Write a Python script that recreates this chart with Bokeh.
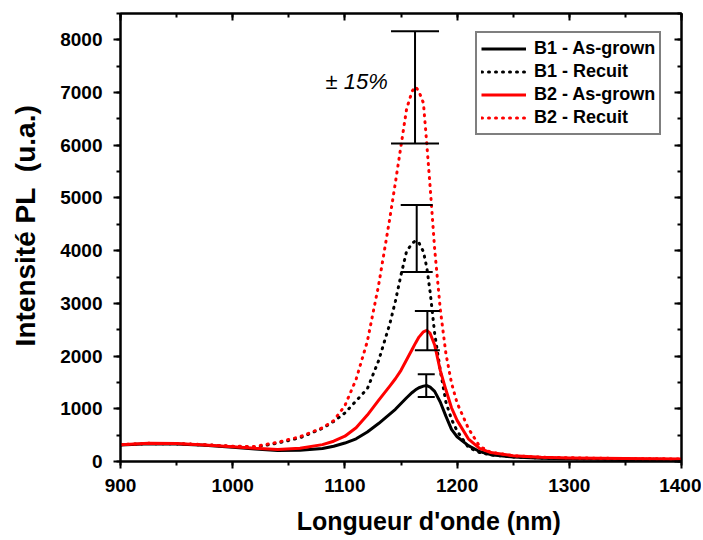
from bokeh.plotting import figure
from bokeh.models import (LinearAxis, SingleIntervalTicker, Range1d, Label, ColumnDataSource,
                          CustomJSTickFormatter)
from bokeh.embed import file_html
from bokeh.resources import INLINE

# ---------------- data ----------------
wavelength = [900, 925, 950, 975, 1000, 1020, 1040, 1060, 1080, 1090, 1100, 1110, 1120,
              1130, 1140, 1145, 1150, 1155, 1160, 1163, 1166, 1170, 1173, 1176, 1180,
              1185, 1190, 1195, 1200, 1210, 1220, 1230, 1250, 1275, 1300, 1350, 1400]

b1_asgrown = [315, 335, 330, 310, 270, 235, 210, 215, 245, 290, 350, 430, 560,
              720, 900, 990, 1100, 1210, 1310, 1360, 1400, 1430, 1440, 1410, 1330,
              1130, 860, 610, 470, 300, 190, 130, 85, 60, 50, 40, 35]

b1_recuit = [315, 340, 335, 315, 285, 270, 350, 450, 630, 760, 920, 1150, 1380,
             1910, 2610, 3040, 3540, 3990, 4140, 4190, 4150, 3980, 3680, 3210, 2430,
             1730, 1130, 800, 580, 270, 170, 125, 85, 65, 55, 45, 38]

b2_asgrown = [320, 345, 340, 315, 280, 250, 230, 250, 320, 385, 480, 640, 880,
              1160, 1430, 1570, 1730, 1930, 2130, 2250, 2360, 2460, 2490, 2430, 2210,
              1730, 1360, 1020, 780, 430, 250, 170, 110, 80, 68, 55, 48]

b2_recuit = [320, 345, 340, 320, 290, 285, 365, 470, 640, 775, 1060, 1560, 2280,
             3340, 4610, 5290, 5990, 6690, 7030, 7110, 7020, 6800, 6020, 5200, 4030,
             2890, 2050, 1490, 1110, 630, 290, 175, 110, 80, 70, 55, 48]

series_labels = ["B1 - As-grown", "B1 - Recuit", "B2 - As-grown", "B2 - Recuit"]

# error bars (peak positions and peak intensities, +/- 15 %)
err_x = [1172.5, 1164.0, 1173.5, 1162.5]
err_center = [1440, 4230, 2485, 7100]
err_fraction = 0.15
err_text = "± 15%"

x_title = "Longueur d'onde (nm)"
y_title = "Intensité PL\u00a0 (u.a.)"

x_ticks_start, x_ticks_end = 900, 1400
y_max = 8500

# ---------------- styling ----------------
FONT = "Liberation Sans"
NBSP = "\u00a0"

p = figure(output_backend="svg", toolbar_location=None,
           frame_width=561, frame_height=448,
           min_border_left=120, min_border_right=20, min_border_top=13, min_border_bottom=60,
           x_range=Range1d(x_ticks_start, x_ticks_end), y_range=Range1d(0, y_max))
p.background_fill_color = "white"
p.border_fill_color = "white"
p.outline_line_color = "black"
p.outline_line_width = 2
p.xgrid.visible = False
p.ygrid.visible = False

styles = [("black", None), ("black", "1 6"), ("red", None), ("red", "1 6")]
data = [b1_asgrown, b1_recuit, b2_asgrown, b2_recuit]
for ys, lab, (col, dash) in zip(data, series_labels, styles):
    kw = dict(line_color=col, line_width=3, legend_label=lab, line_join="round")
    if dash:
        kw.update(line_dash=dash, line_cap="round")
    p.line(wavelength, ys, **kw)

# error bars
lo = [c * (1 - err_fraction) for c in err_center]
hi = [c * (1 + err_fraction) for c in err_center]
cap_px = [17, 32, 25, 48]
src = ColumnDataSource(dict(x=err_x, lo=lo, hi=hi, cap=cap_px))
p.segment(x0="x", y0="lo", x1="x", y1="hi", source=src, line_color="black", line_width=2)
p.scatter(x="x", y="lo", size="cap", marker="dash", source=src, line_color="black", line_width=2)
p.scatter(x="x", y="hi", size="cap", marker="dash", source=src, line_color="black", line_width=2)

p.add_layout(Label(x=1082.7, y=7214, text=err_text, text_font=FONT, text_font_style="italic",
                   text_font_size="22px", text_color="black", text_baseline="alphabetic"))

xticker = SingleIntervalTicker(interval=100, num_minor_ticks=2)
yticker = SingleIntervalTicker(interval=1000, num_minor_ticks=2)

for ax in (p.xaxis[0], p.yaxis[0]):
    ax.axis_line_width = 2
    ax.major_tick_line_width = 2
    ax.minor_tick_line_width = 2
    ax.major_tick_in = 0
    ax.major_tick_out = 7
    ax.minor_tick_in = 0
    ax.minor_tick_out = 4
    ax.major_label_text_font = FONT
    ax.major_label_text_font_style = "bold"
    ax.major_label_text_font_size = "19px"
    ax.major_label_text_color = "black"
    ax.axis_label_text_font = FONT
    ax.axis_label_text_font_style = "bold"
    ax.axis_label_text_color = "black"

p.xaxis[0].ticker = xticker
p.yaxis[0].ticker = yticker
# leading non-breaking spaces shift the titles as in the original layout
p.xaxis[0].axis_label = NBSP * 8 + x_title
p.yaxis[0].axis_label = NBSP * 3 + y_title
p.xaxis[0].axis_label_text_font_size = "25px"
p.yaxis[0].axis_label_text_font_size = "28px"
p.xaxis[0].major_label_standoff = 10
p.xaxis[0].axis_label_standoff = 12
p.yaxis[0].major_label_standoff = 11
p.yaxis[0].axis_label_standoff = 16

blank = CustomJSTickFormatter(code="return ''")
top = LinearAxis(ticker=SingleIntervalTicker(interval=100, num_minor_ticks=2), formatter=blank)
right = LinearAxis(ticker=SingleIntervalTicker(interval=1000, num_minor_ticks=2),
                   formatter=CustomJSTickFormatter(code="return ''"))
for ax in (top, right):
    ax.axis_line_width = 2
    ax.major_tick_line_width = 2
    ax.minor_tick_line_width = 2
    ax.major_tick_in = 7
    ax.major_tick_out = 0
    ax.minor_tick_in = 4
    ax.minor_tick_out = 0
    ax.major_label_standoff = 0
p.add_layout(top, "above")
p.add_layout(right, "right")

lg = p.legend[0]
lg.location = (355, 326)
lg.label_text_font = FONT
lg.label_text_font_style = "bold"
lg.label_text_font_size = "18px"
lg.label_text_color = "black"
lg.border_line_color = "black"
lg.border_line_width = 2
lg.background_fill_color = "white"
lg.background_fill_alpha = 1
lg.glyph_width = 45
lg.glyph_height = 23
lg.label_height = 23
lg.spacing = 0
lg.padding = 4
lg.margin = 0
lg.label_standoff = 8

open("out.html", "w").write(file_html(p, INLINE))
